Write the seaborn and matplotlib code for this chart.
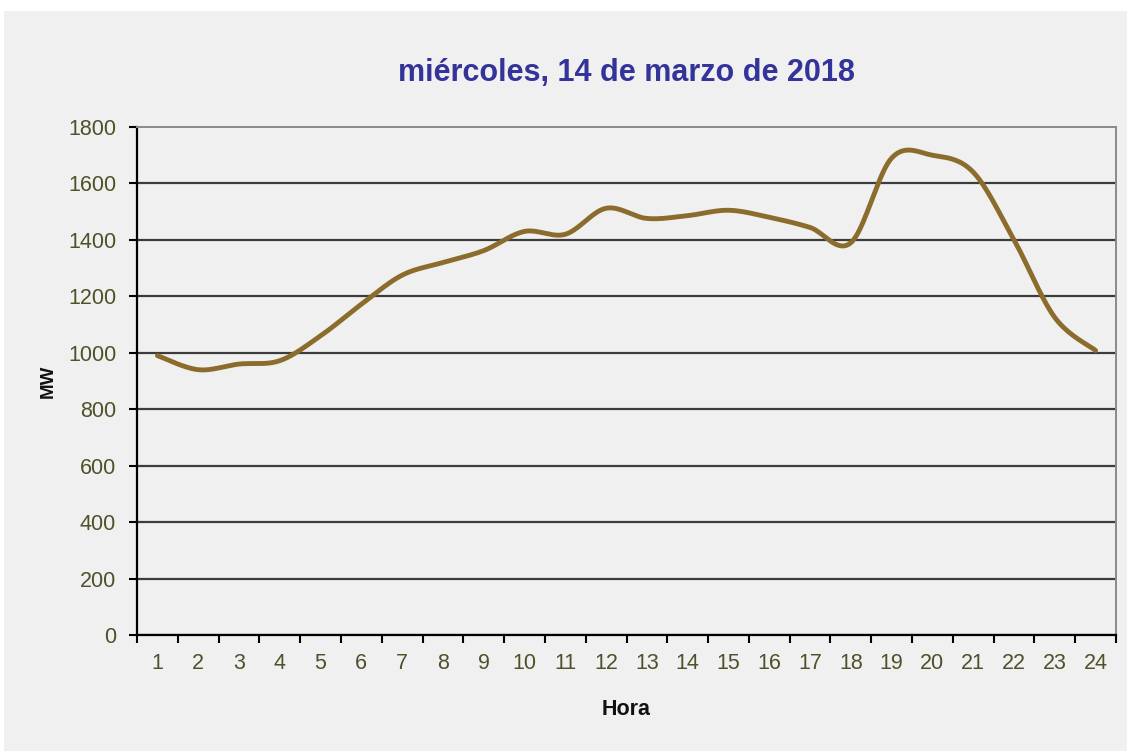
import numpy as np
import pandas as pd
import matplotlib
matplotlib.use("Agg")
import matplotlib.pyplot as plt
from matplotlib.patches import Rectangle
import seaborn as sns

# hourly demand, MW
hours = list(range(1, 25))
mw = [990, 940, 960, 972, 1060, 1172, 1275, 1320, 1362, 1430, 1420, 1512,
      1476, 1486, 1505, 1480, 1444, 1390, 1690, 1700, 1640, 1400, 1125, 1008]
title = "miércoles, 14 de marzo de 2018"


def smooth(x, y, n=20):
    # Catmull-Rom curve like Excel's "smoothed line"
    x = np.asarray(x, float)
    y = np.asarray(y, float)
    px = np.concatenate([[x[0]], x, [x[-1]]])
    py = np.concatenate([[y[0]], y, [y[-1]]])
    xs, ys = [], []
    for i in range(1, len(x)):
        p0, p1, p2, p3 = (np.array([px[j], py[j]]) for j in (i - 1, i, i + 1, i + 2))
        c1 = p1 + (p2 - p0) / 6
        c2 = p2 - (p3 - p1) / 6
        t = np.linspace(0, 1, n, endpoint=False)[:, None]
        pts = ((1 - t) ** 3) * p1 + 3 * ((1 - t) ** 2) * t * c1 + 3 * (1 - t) * t ** 2 * c2 + t ** 3 * p2
        xs.extend(pts[:, 0])
        ys.extend(pts[:, 1])
    xs.append(x[-1])
    ys.append(y[-1])
    return pd.DataFrame({"Hora": xs, "MW": ys})


curve = smooth(hours, mw)

sns.set_style("white")
plt.rcParams["font.family"] = ["Liberation Sans", "DejaVu Sans"]

fig = plt.figure(figsize=(11.27, 7.51), dpi=100, facecolor="white")
fig.patches.append(Rectangle((4 / 1127, 0), 1, 1 - 11 / 751, transform=fig.transFigure,
                             facecolor="#f0f0f0", edgecolor="none", zorder=-10))
ax = fig.add_axes([137 / 1127, 1 - 635 / 751, (1116 - 137) / 1127, (635 - 127) / 751])
ax.set_facecolor("#f0f0f0")

sns.lineplot(data=curve, x="Hora", y="MW", ax=ax, color="#8c6c2c", lw=3.5,
             sort=False, estimator=None, zorder=5)

ax.set_xlim(0.5, 24.5)
ax.set_ylim(0, 1800)
ax.set_yticks(range(0, 1801, 200))
ax.set_xticks(hours)
ax.set_xticklabels([str(h) for h in hours])
ax.set_xticks(np.arange(0.5, 25, 1), minor=True)

ax.yaxis.grid(True, color="#3c3c3c", lw=1.6)
ax.set_axisbelow(True)
ax.get_ygridlines()[-1].set_visible(False)

tick_col = "#50502a"
ax.tick_params(axis="x", which="major", length=0, pad=13, labelsize=15.5, labelcolor=tick_col)
ax.tick_params(axis="x", which="minor", length=6, width=1.5, color="black", direction="out", bottom=True)
ax.tick_params(axis="y", length=6, width=1.5, color="black", direction="out", left=True,
               pad=9, labelsize=15.5, labelcolor=tick_col)

for side in ("left", "bottom"):
    ax.spines[side].set_color("black")
    ax.spines[side].set_linewidth(1.6)
for side in ("top", "right"):
    ax.spines[side].set_color("#8a8a8a")
    ax.spines[side].set_linewidth(1.4)

ax.set_xlabel("Hora", fontsize=15.5, fontweight="bold", color="#111111", labelpad=18)
ax.set_ylabel("MW", fontsize=13.5, fontweight="bold", color="#111111", labelpad=8)
ax.set_title(title, fontsize=22, fontweight="bold", color="#333399", pad=33)

fig.savefig("out.png", dpi=100, facecolor=fig.get_facecolor())
